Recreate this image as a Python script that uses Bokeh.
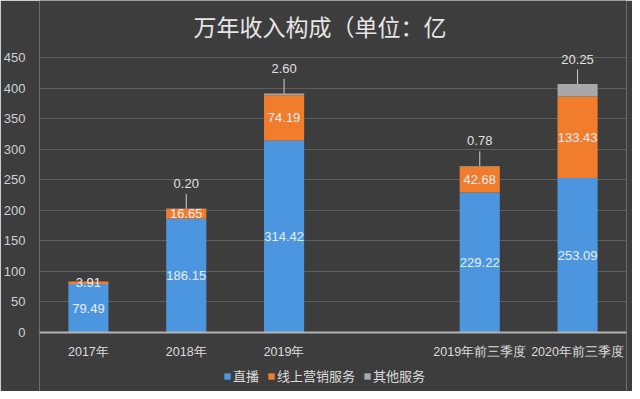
from bokeh.plotting import figure
from bokeh.models import ColumnDataSource, FactorRange, Legend, LegendItem, FixedTicker, Range1d, Label
from bokeh.core.properties import value
from bokeh.embed import file_html
from bokeh.resources import INLINE

categories = ["2017年", "2018年", "2019年", "2019年前三季度", "2020年前三季度"]
gap_factor = " "
live = [79.49, 186.15, 314.42, 229.22, 253.09]
marketing = [3.91, 16.65, 74.19, 42.68, 133.43]
others = [0.0, 0.20, 2.60, 0.78, 20.25]
others_labels = ["", "0.20", "2.60", "0.78", "20.25"]
series_names = ["直播", "线上营销服务", "其他服务"]
y_ticks = [0, 50, 100, 150, 200, 250, 300, 350, 400, 450]
title_text = "万年收入构成（单位：亿"

BG = "#3d3d3d"
COLORS = ["#4c96e0", "#f07c2c", "#a8a8a8"]
FONT = "Liberation Sans"
CJK = "Noto Sans CJK SC"

factors = categories[:3] + [gap_factor] + categories[3:]

p = figure(
    x_range=FactorRange(factors=factors),
    y_range=Range1d(-96.5, 543.5),
    frame_width=587, frame_height=391,
    output_backend="svg", toolbar_location=None,
    min_border_left=39, min_border_right=6, min_border_top=0, min_border_bottom=0,
    background_fill_color=BG, border_fill_color=BG,
    outline_line_color=None,
)

src = ColumnDataSource(dict(cat=categories, live=live, marketing=marketing, others=others))
rs = p.vbar_stack(["live", "marketing", "others"], x="cat", width=0.41,
                  color=COLORS, line_color=None, source=src)

# inside labels
live_mid = [v / 2 for v in live]
mkt_mid = [l + m / 2 for l, m in zip(live, marketing)]
inner = ColumnDataSource(dict(
    x=categories + categories,
    y=live_mid + mkt_mid,
    t=["%.2f" % v for v in live] + ["%.2f" % v for v in marketing],
))
p.text(x="x", y="y", text="t", source=inner, text_align="center", text_baseline="middle",
       text_color="#e9eef6", text_font=value(FONT), text_font_size="13px")

# top labels with leader lines
tops = [l + m + o for l, m, o in zip(live, marketing, others)]
idx = [i for i, s in enumerate(others_labels) if s]
LEAD = 24
top_src = ColumnDataSource(dict(
    x=[categories[i] for i in idx],
    y=[tops[i] for i in idx],
    y1=[tops[i] + LEAD for i in idx],
    t=[others_labels[i] for i in idx],
))
p.segment(x0="x", y0="y", x1="x", y1="y1", source=top_src, line_color="#cfcfcf", line_width=1)
p.text(x="x", y="y", text="t", source=top_src, y_offset=-25, text_align="center",
       text_baseline="middle", text_color="#e0e0e0", text_font=value(FONT), text_font_size="13px")

# axes
p.yaxis.ticker = FixedTicker(ticks=y_ticks)
p.yaxis.axis_line_color = None
p.yaxis.major_tick_line_color = None
p.yaxis.minor_tick_line_color = None
p.yaxis.major_label_text_color = "#d0d0d0"
p.yaxis.major_label_text_font = FONT
p.yaxis.major_label_text_font_size = "13px"
p.yaxis.major_label_standoff = 8

p.xaxis.fixed_location = 0
p.xaxis.axis_line_color = "#b4b4b4"
p.xaxis.axis_line_width = 2
p.xaxis.major_tick_line_color = None
p.xaxis.minor_tick_line_color = None
p.xaxis.major_label_text_color = "#dcdcdc"
p.xaxis.major_label_text_font = FONT
p.xaxis.major_label_text_font_size = "12.5px"
p.xaxis.major_label_standoff = 6

p.xgrid.grid_line_color = None
p.ygrid.grid_line_color = "#5e5e5e"
p.ygrid.grid_line_width = 1

# title (as a label so it can be positioned freely)
title = Label(x=3, y=450, x_offset=-13, y_offset=32, text=title_text,
              text_align="center", text_baseline="middle",
              text_color="#e6e6e6", text_font=CJK, text_font_size="23px")
p.add_layout(title)

legend = Legend(items=[LegendItem(label=n, renderers=[r]) for n, r in zip(series_names, rs)],
                orientation="horizontal", location=(184, 6),
                background_fill_alpha=0, border_line_color=None,
                label_text_color="#dcdcdc", label_text_font=CJK, label_text_font_size="13px",
                glyph_width=8, glyph_height=8, label_standoff=2, spacing=8, padding=0, margin=0,
                label_height=14)
p.add_layout(legend, "center")

open("out.html", "w").write(file_html(p, INLINE))
